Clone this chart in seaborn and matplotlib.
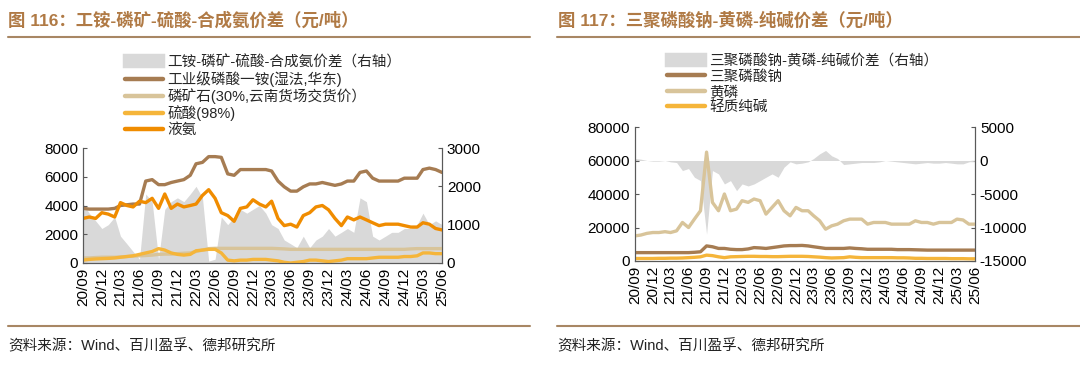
import numpy as np
import pandas as pd
import matplotlib
matplotlib.use("Agg")
import matplotlib.pyplot as plt
import seaborn as sns

sns.set_style("white")
plt.rcParams['font.family'] = ['Liberation Sans', 'Noto Sans CJK SC', 'DejaVu Sans']
plt.rcParams['axes.unicode_minus'] = False

# monthly dates 2020-09 .. 2025-06
dates = pd.date_range("2020-09-01", "2025-06-01", freq="MS")
tick_dates = pd.date_range("2020-09-01", "2025-06-01", freq="3MS")

# ---- figure 116 ----
map_price = [3800, 3750, 3750, 3750,
             3750, 3800, 4000, 4050, 4100, 4100, 5700, 5800, 5450, 5450, 5600, 5700,
             5800, 6100, 6900, 7000, 7400, 7400, 7350, 6200, 6100, 6500, 6500, 6500,
             6500, 6500, 6400, 5700, 5300, 5000, 5000, 5300, 5500, 5500, 5600, 5500,
             5400, 5500, 5700, 5700, 6300, 6400, 5900, 5700, 5700, 5700, 5700, 5900,
             5900, 5900, 6500, 6600, 6500, 6300]
ammonia = [3100, 3200, 3100, 3500,
           3400, 3200, 4200, 4000, 3900, 4300, 4200, 4500, 3800, 4800, 3800, 4100,
           3900, 4000, 4100, 4700, 5100, 4500, 3500, 3300, 2900, 3800, 3900, 4400,
           4100, 3900, 4300, 3100, 2600, 2700, 2500, 3300, 3500, 3900, 4000, 3700,
           3100, 2600, 3200, 3000, 3200, 3000, 2800, 2600, 2700, 2700, 2700, 2600,
           2500, 2500, 2800, 2700, 2400, 2300]
rock = [350, 350, 380, 400,
        400, 400, 420, 450, 480, 500, 520, 550, 600, 620, 620, 650,
        680, 700, 800, 900, 1000, 1020, 1020, 1020, 1020, 1020, 1020, 1020,
        1020, 1020, 1020, 1000, 980, 950, 950, 950, 950, 950, 950, 950,
        950, 950, 950, 950, 950, 950, 950, 950, 950, 950, 950, 950,
        980, 1000, 1000, 1000, 1000, 1000]
sulfuric = [200, 250, 280, 300,
            320, 350, 400, 450, 500, 600, 700, 800, 1000, 900, 700, 600,
            550, 600, 850, 900, 950, 950, 700, 200, 150, 200, 200, 250,
            250, 250, 200, 150, 50, 0, 50, 100, 200, 200, 150, 100,
            150, 200, 300, 300, 300, 300, 350, 400, 400, 400, 400, 450,
            450, 500, 700, 700, 650, 650]
map_spread = [1550, 1300, 1100, 900,
              1000, 1200, 700, 500, 300, 100, 1800, 1600, 100, 1400, 1600, 1700,
              1600, 1800, 2000, 1700, 50, 100, 1200, 1000, 1200, 1400, 1300, 1400,
              1500, 1300, 1000, 900, 600, 500, 400, 700, 400, 600, 700, 900,
              700, 800, 900, 800, 1700, 1600, 700, 600, 700, 800, 800, 900,
              900, 1000, 1300, 1000, 1100, 1000]

# ---- figure 117 ----
stpp = [5000, 5000, 5000, 5000,
        5000, 5000, 5000, 5000, 5000, 5000, 5200, 5500, 9000, 8500, 7500, 7500,
        7000, 6800, 6800, 7200, 8000, 7800, 7500, 8000, 8500, 9000, 9200, 9200,
        9300, 9000, 8500, 8000, 7500, 7500, 7500, 7500, 7800, 7500, 7300, 7000,
        7000, 7000, 7000, 7000, 6800, 6800, 6800, 6700, 6600, 6500, 6500, 6500,
        6500, 6500, 6500, 6500, 6500, 6500]
phosphorus = [15000, 15500, 16500, 17000,
              17000, 17500, 17000, 18000, 23000, 20000, 25000, 30000, 65000, 35000, 30000, 40000,
              30000, 31000, 36000, 35000, 37000, 36000, 28000, 32000, 36000, 30000, 27000, 32000,
              30000, 30000, 27000, 24000, 19000, 21000, 22000, 24000, 25000, 25000, 25000, 22000,
              23000, 23000, 23000, 22000, 22000, 22000, 22000, 24000, 23000, 23000, 22000, 23000,
              23000, 23000, 25000, 24500, 22000, 22000]
soda = [1500, 1500, 1500, 1500,
        1600, 1600, 1700, 1700, 1800, 2000, 2200, 2500, 3500, 3200, 2500, 2000,
        2500, 2600, 2700, 2800, 2800, 2700, 2700, 2600, 2600, 2700, 2800, 2800,
        2800, 2700, 2500, 2300, 2000, 1800, 1900, 2000, 2500, 2200, 2000, 2000,
        2000, 2000, 2000, 2000, 1900, 1900, 1800, 1600, 1600, 1500, 1500, 1500,
        1500, 1400, 1400, 1400, 1300, 1300]
stpp_spread = [300, 200, 0, -100,
               -100, 0, -200, -300, -1500, -1200, -2500, -3000, -11000, -1500, -2000, -3500,
               -3000, -4500, -3500, -3800, -3500, -3000, -2500, -2000, -2500, -1000, -200, -500,
               -400, -200, 300, 1000, 1500, 700, 300, -600, -500, -400, -300, -300,
               -300, -200, 0, -100, -200, -300, -400, -500, -400, -300, -400, -400,
               -300, -400, -500, -500, -200, -100]

BROWN = '#A67C52'
BEIGE = '#D8C49A'
YELLOW = '#F5B53A'
ORANGE = '#F08C00'
GRAY = '#D9D9D9'
TITLE_C = '#B07A45'
RULE_C = '#A88764'
AXIS_C = '#595959'
LW = 2.4

W, H = 1080, 376
fig = plt.figure(figsize=(W / 100, H / 100), dpi=100)


def frac_box(x0, x1, ytop, ybot):
    return [x0 / W, 1 - ybot / H, (x1 - x0) / W, (ybot - ytop) / H]


def style_axes(ax, ax2):
    for a in (ax, ax2):
        a.spines['top'].set_visible(False)
        for s in ('left', 'right', 'bottom'):
            a.spines[s].set_color(AXIS_C)
            a.spines[s].set_linewidth(0.8)
        a.tick_params(direction='in', length=3, width=0.8, color=AXIS_C,
                      labelsize=11, labelcolor='black')
        a.grid(False)
    ax.set_xticks(tick_dates)
    ax.set_xticklabels([d.strftime('%y/%m') for d in tick_dates], rotation=90)
    ax.set_xlim(dates[0], dates[-1])
    ax.set_xlabel('')
    ax.set_ylabel('')
    ax2.set_ylabel('')
    ax.set_zorder(ax2.get_zorder() + 1)
    ax.patch.set_visible(False)


def panel(x0, x1, ytop, ybot, lines, spread, spread_label, lylim, lyticks, rylim, ryticks, leg_xy):
    ax = fig.add_axes(frac_box(x0, x1, ytop, ybot))
    ax2 = ax.twinx()
    area = ax2.fill_between(dates, 0, spread, color=GRAY, lw=0, label=spread_label)
    handles = [area]
    for vals, color, label in lines:
        sns.lineplot(x=dates, y=vals, ax=ax, color=color, lw=LW, label=label)
    ax.get_legend().remove()
    handles += ax.get_lines()
    ax.set_ylim(*lylim)
    ax.set_yticks(lyticks)
    ax2.set_ylim(*rylim)
    ax2.set_yticks(ryticks)
    style_axes(ax, ax2)
    leg = fig.legend(handles, [h.get_label() for h in handles], loc='upper left',
                     bbox_to_anchor=(leg_xy[0] / W, 1 - leg_xy[1] / H),
                     frameon=False, fontsize=10.5, borderpad=0, borderaxespad=0,
                     handlelength=2.6, handletextpad=0.3, labelspacing=0.1)
    for h in leg.legend_handles:
        if hasattr(h, 'set_linewidth'):
            h.set_linewidth(3.2)
    return ax


panel(83, 442, 148, 263,
      [(map_price, BROWN, '工业级磷酸一铵(湿法,华东)'),
       (rock, BEIGE, '磷矿石(30%,云南货场交货价）'),
       (sulfuric, YELLOW, '硫酸(98%)'),
       (ammonia, ORANGE, '液氨')],
      map_spread, '工铵-磷矿-硫酸-合成氨价差（右轴）',
      (0, 8000), [0, 2000, 4000, 6000, 8000],
      (0, 3000), [0, 1000, 2000, 3000],
      (125, 55))

panel(635, 975, 127, 261,
      [(stpp, BROWN, '三聚磷酸钠'),
       (phosphorus, BEIGE, '黄磷'),
       (soda, YELLOW, '轻质纯碱')],
      stpp_spread, '三聚磷酸钠-黄磷-纯碱价差（右轴）',
      (0, 80000), [0, 20000, 40000, 60000, 80000],
      (-15000, 5000), [-15000, -10000, -5000, 0, 5000],
      (667, 54))

# titles, rules and sources
fig.text(8 / W, 1 - 20 / H, '图 116：工铵-磷矿-硫酸-合成氨价差（元/吨）', color=TITLE_C,
         fontsize=12.5, fontweight='bold', va='center', ha='left')
fig.text(558 / W, 1 - 20 / H, '图 117：三聚磷酸钠-黄磷-纯碱价差（元/吨）', color=TITLE_C,
         fontsize=12.5, fontweight='bold', va='center', ha='left')
for xa, xb in ((8, 530), (557, 1080)):
    fig.add_artist(plt.Line2D([xa / W, xb / W], [1 - 37 / H] * 2, color=RULE_C, lw=1.5))
    fig.add_artist(plt.Line2D([xa / W, xb / W], [1 - 326 / H] * 2, color=RULE_C, lw=1.5))
fig.text(8 / W, 1 - 346 / H, '资料来源：Wind、百川盈孚、德邦研究所', color='#222222',
         fontsize=10.5, va='center', ha='left')
fig.text(557 / W, 1 - 346 / H, '资料来源：Wind、百川盈孚、德邦研究所', color='#222222',
         fontsize=10.5, va='center', ha='left')

fig.savefig('out.png', dpi=100)
